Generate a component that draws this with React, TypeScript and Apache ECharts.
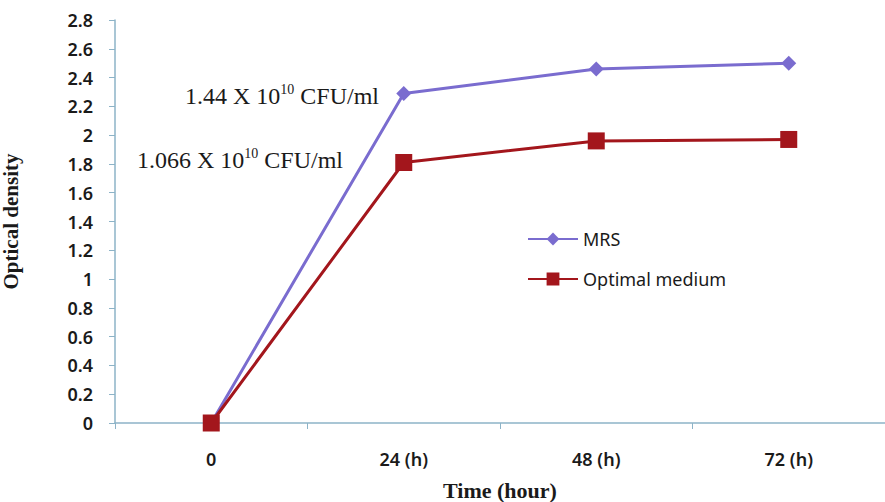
import React, { useEffect, useRef } from "react";
import * as echarts from "echarts";

const categories = ["0", "24 (h)", "48 (h)", "72 (h)"];
const mrsValues = [0, 2.29, 2.46, 2.5];
const optimalValues = [0, 1.81, 1.96, 1.97];
const annotations = [
  { base: "1.44 X 10", sup: "10", rest: " CFU/ml" },
  { base: "1.066 X 10", sup: "10", rest: " CFU/ml" },
];

export default function App() {
  const ref = useRef<HTMLDivElement>(null);
  useEffect(() => {
    if (!ref.current) return;
    const chart = echarts.init(ref.current, undefined, { renderer: "svg" });
    const axisColor = "#8db3c7";
    const serif = "'Liberation Serif', 'DejaVu Serif', serif";
    const sans = "'Noto Sans', 'Open Sans', sans-serif";
    const richText = (a: { base: string; sup: string; rest: string }) =>
      `{b|${a.base}}{s|${a.sup}}{b|${a.rest}}`;
    const rich = {
      b: { fontFamily: serif, fontSize: 24, fill: "#1a1a1a", fontWeight: 500 },
      s: { fontFamily: serif, fontSize: 14, fill: "#1a1a1a", padding: [0, 0, 14, 0] },
    };
    chart.setOption({
      animation: false,
      backgroundColor: "#ffffff",
      grid: { left: 115, right: 0, top: 20, bottom: 79, outerBoundsMode: "none", containLabel: false },
      legend: {
        orient: "vertical",
        left: 522,
        top: 225,
        itemGap: 22,
        itemWidth: 50,
        itemHeight: 16,
        textStyle: { fontFamily: sans, fontSize: 18, color: "#1a1a1a" },
        data: ["MRS", "Optimal medium"],
      },
      xAxis: {
        type: "category",
        data: categories,
        boundaryGap: true,
        name: "Time (hour)",
        nameLocation: "middle",
        nameGap: 56,
        nameTextStyle: { fontFamily: serif, fontSize: 22, fontWeight: "bold", color: "#1a1a1a" },
        axisLine: { lineStyle: { color: axisColor, width: 1.5 } },
        axisTick: { show: true, alignWithLabel: false, length: 6, lineStyle: { color: axisColor } },
        axisLabel: { margin: 27, fontFamily: sans, fontSize: 18, fontWeight: 600, color: "#1a1a1a" },
      },
      yAxis: {
        type: "value",
        min: 0,
        max: 2.8,
        interval: 0.2,
        name: "Optical density",
        nameLocation: "middle",
        nameGap: 94,
        nameTextStyle: { fontFamily: serif, fontSize: 21, fontWeight: "bold", color: "#1a1a1a" },
        axisLine: { show: true, lineStyle: { color: axisColor, width: 1.5 } },
        axisTick: { show: true, length: 6, lineStyle: { color: axisColor } },
        splitLine: { show: false },
        axisLabel: { margin: 22, fontFamily: sans, fontSize: 18, fontWeight: 600, color: "#1a1a1a" },
      },
      series: [
        {
          name: "MRS",
          type: "line",
          data: mrsValues,
          symbol: "diamond",
          symbolSize: 15,
          lineStyle: { color: "#7a6ccf", width: 3 },
          itemStyle: { color: "#7a6ccf" },
          z: 2,
        },
        {
          name: "Optimal medium",
          type: "line",
          data: optimalValues,
          symbol: "rect",
          symbolSize: 17,
          lineStyle: { color: "#a3161c", width: 3 },
          itemStyle: { color: "#a3161c" },
          z: 3,
        },
      ],
      graphic: [
        {
          type: "text",
          left: 185,
          top: 82,
          style: { text: richText(annotations[0]), rich },
        },
        {
          type: "text",
          left: 137,
          top: 146,
          style: { text: richText(annotations[1]), rich },
        },
      ],
    });
    return () => chart.dispose();
  }, []);
  return (
    <div
      ref={ref}
      style={{ position: "fixed", left: 0, top: 0, width: 885, height: 502 }}
    />
  );
}
